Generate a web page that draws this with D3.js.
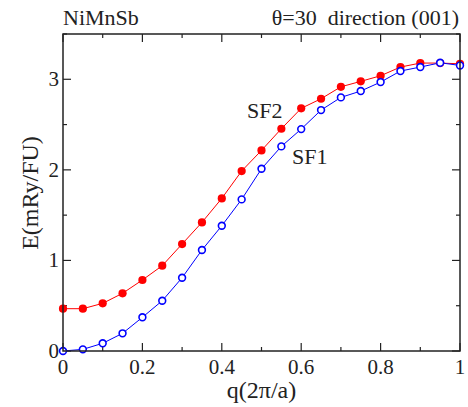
<!DOCTYPE html>
<html><head><meta charset="utf-8">
<script src="https://cdn.jsdelivr.net/npm/d3@7"></script>
<style>body{margin:0;background:#fff}svg{display:block}</style>
</head><body><svg id="c" width="468" height="407" font-family="Liberation Serif, Times New Roman, serif"></svg>
<script>
const q = [0,0.05,0.1,0.15,0.2,0.25,0.3,0.35,0.4,0.45,0.5,0.55,0.6,0.65,0.7,0.75,0.8,0.85,0.9,0.95,1.0];
const sf2 = [0.467,0.467,0.526,0.637,0.784,0.942,1.181,1.420,1.685,1.987,2.215,2.454,2.679,2.785,2.917,2.977,3.039,3.135,3.179,3.179,3.171];
const sf1 = [0.0,0.018,0.085,0.195,0.372,0.555,0.809,1.115,1.383,1.674,2.012,2.259,2.450,2.660,2.800,2.870,2.969,3.091,3.135,3.182,3.153];
const xMajor = [0,0.2,0.4,0.6,0.8,1];
const xMinor = [0.1,0.3,0.5,0.7,0.9];
const yMajor = [0,1,2,3];
const yMinor = [0.5,1.5,2.5,3.5];

const svg = d3.select("#c");
const ink = "#222";
const FAM = "Liberation Serif, Times New Roman, serif";
const L=63,R=460,T=34,B=351;
const x = d3.scaleLinear().domain([0,1]).range([L,R]);
const y = d3.scaleLinear().domain([0,3.5]).range([B,T]);

// ticks
const g = svg.append("g").attr("stroke",ink).attr("stroke-width",1.2);
xMajor.concat(xMinor).forEach(v=>{
  const len = xMajor.includes(v)?8:4;
  g.append("line").attr("x1",x(v)).attr("x2",x(v)).attr("y1",B).attr("y2",B-len);
  g.append("line").attr("x1",x(v)).attr("x2",x(v)).attr("y1",T).attr("y2",T+len);
});
yMajor.concat(yMinor).forEach(v=>{
  const len = yMajor.includes(v)?8:4;
  g.append("line").attr("y1",y(v)).attr("y2",y(v)).attr("x1",L).attr("x2",L+len);
  g.append("line").attr("y1",y(v)).attr("y2",y(v)).attr("x1",R).attr("x2",R-len);
});

const t = (xx,yy,s,txt,anchor)=>svg.append("text").attr("font-family",FAM).style("font-family","'Liberation Serif', 'Times New Roman', serif")
  .attr("x",xx).attr("y",yy).attr("font-size",s).attr("fill",ink).attr("text-anchor",anchor||"start").text(txt);

// tick labels
xMajor.forEach(v=>t(x(v),B+23,21,d3.format("~g")(v),"middle"));
yMajor.forEach(v=>t(L-4,y(v)+7,21,String(v),"end"));

// lines and points
const line = d3.line().x((d,i)=>x(q[i])).y(d=>y(d));
svg.append("path").datum(sf2).attr("d",line).attr("fill","none").attr("stroke","#ff0000").attr("stroke-width",1);
svg.append("path").datum(sf1).attr("d",line).attr("fill","none").attr("stroke","#0000ff").attr("stroke-width",1);
svg.selectAll(".p2").data(sf2).join("circle").attr("cx",(d,i)=>x(q[i])).attr("cy",d=>y(d)).attr("r",4.1).attr("fill","#ff0000");
svg.selectAll(".p1").data(sf1).join("circle").attr("cx",(d,i)=>x(q[i])).attr("cy",d=>y(d)).attr("r",3.4).attr("fill","#fff").attr("stroke","#0000ff").attr("stroke-width",1.6);

// frame
svg.append("rect").attr("x",L).attr("y",T).attr("width",R-L).attr("height",B-T).attr("fill","none").attr("stroke",ink).attr("stroke-width",1.5);

// texts
t(63,25,22,"NiMnSb");
t(459,25,22,"θ=30\u00a0\u00a0direction (001)","end");
t(247,118,22,"SF2");
t(292,164,22,"SF1");
t((L+R)/2,398,24,"q(2π/a)","middle");
t(0,0,24,"E(mRy/FU)","middle").attr("transform",`translate(38,193) rotate(-90)`);
</script></body></html>
